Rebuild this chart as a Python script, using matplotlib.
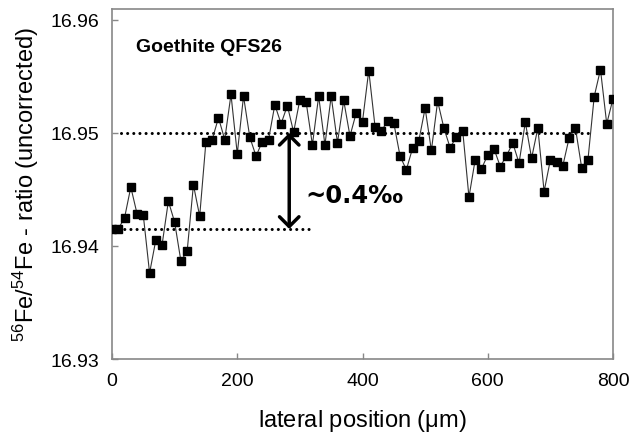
import matplotlib.pyplot as plt

# lateral position (um) and measured 56Fe/54Fe ratio
pos = [0, 10, 20, 30, 40, 50, 60, 70, 80, 90, 100, 110, 120, 130, 140, 150, 160, 170, 180, 190,
       200, 210, 220, 230, 240, 250, 260, 270, 280, 290, 300, 310, 320, 330, 340, 350, 360, 370,
       380, 390, 400, 410, 420, 430, 440, 450, 460, 470, 480, 490, 500, 510, 520, 530, 540, 550,
       560, 570, 580, 590, 600, 610, 620, 630, 640, 650, 660, 670, 680, 690, 700, 710, 720, 730,
       740, 750, 760, 770, 780, 790, 800]
ratio = [16.94151, 16.94151, 16.94248, 16.94520, 16.94284, 16.94269, 16.93760, 16.94054, 16.94012,
         16.94396, 16.94210, 16.93866, 16.93954, 16.94540, 16.94263, 16.94923, 16.94941, 16.95133,
         16.94941, 16.95339, 16.94814, 16.95324, 16.94962, 16.94794, 16.94923, 16.94941, 16.95248,
         16.95080, 16.95241, 16.95006, 16.95294, 16.95271, 16.94894, 16.95324, 16.94894, 16.95324,
         16.94912, 16.95286, 16.94971, 16.95177, 16.95100, 16.95551, 16.95056, 16.95015, 16.95103,
         16.95086, 16.94794, 16.94673, 16.94865, 16.94932, 16.95218, 16.94844, 16.95280, 16.95042,
         16.94867, 16.94967, 16.95020, 16.94431, 16.94764, 16.94682, 16.94805, 16.94859, 16.94702,
         16.94799, 16.94909, 16.94732, 16.95095, 16.94776, 16.95042, 16.94481, 16.94761, 16.94746,
         16.94711, 16.94956, 16.95044, 16.94691, 16.94761, 16.95321, 16.95560, 16.95080, 16.95301]

# reference levels (dotted)
upper_x = [14, 765]
upper_level = 16.95
lower_x = [0, 320]
lower_level = 16.9415

xticks = [0, 200, 400, 600, 800]
yticks = [16.93, 16.94, 16.95, 16.96]

plt.rcParams['font.family'] = ['Liberation Sans', 'DejaVu Sans']

fig = plt.figure(figsize=(6.3, 4.35), dpi=100)
ax = fig.add_axes([0.1778, 0.1724, 0.7952, 0.8046])

dot = dict(color='black', lw=2.2, linestyle=(0, (0.01, 2.0)), dash_capstyle='round')
ax.plot(upper_x, [upper_level, upper_level], **dot)
ax.plot(lower_x, [lower_level, lower_level], **dot)

ax.plot(pos, ratio, color='#333333', lw=0.8, marker='s', markersize=5.6,
        markerfacecolor='black', markeredgecolor='black', zorder=3)

ax.annotate('', xy=(283, upper_level), xytext=(283, lower_level),
            arrowprops=dict(arrowstyle='<->,head_length=0.35,head_width=0.35',
                            lw=2.5, color='black', mutation_scale=20,
                            shrinkA=0, shrinkB=0))
ax.text(308, 16.9439, '~0.4‰', fontsize=17.5, fontweight='bold',
        family=['DejaVu Sans'], va='baseline', ha='left')
ax.text(0.048, 0.88, 'Goethite QFS26', transform=ax.transAxes, fontsize=14,
        fontweight='bold', va='baseline', ha='left')

ax.set_xlim(0, 800)
ax.set_ylim(16.93, 16.96095)
ax.set_xticks(xticks)
ax.set_yticks(yticks)
ax.set_yticklabels(['%.2f' % v for v in yticks])
ax.tick_params(direction='in', length=4, width=1, color='#888888', labelsize=14, pad=9)

for s in ax.spines.values():
    s.set_color('#888888')
    s.set_linewidth(1.2)

ax.set_xlabel('lateral position ($\\mathregular{\\mu}$m)', fontsize=17, labelpad=13)
ax.set_ylabel('$\\mathregular{^{56}Fe/^{54}Fe}$ - ratio (uncorrected)', fontsize=17, labelpad=7)

fig.savefig('out.png', dpi=100)
